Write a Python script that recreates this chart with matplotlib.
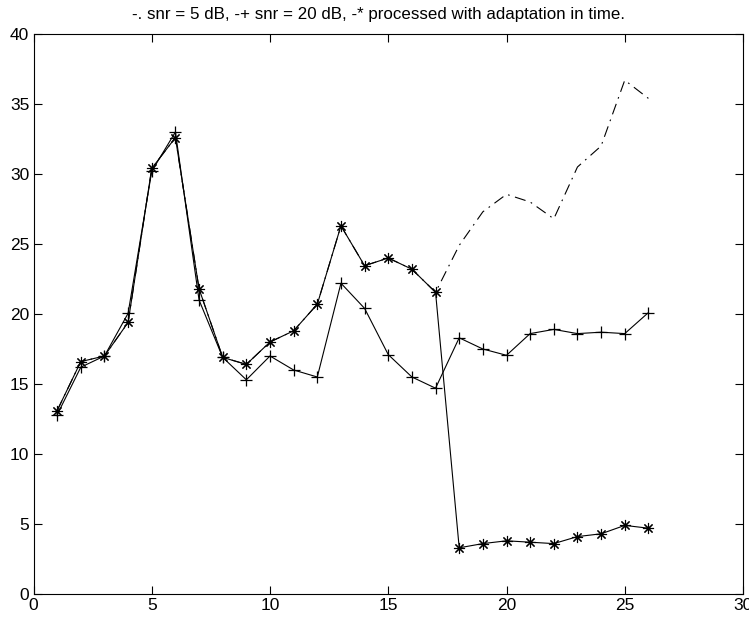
import matplotlib
matplotlib.use("Agg")
import matplotlib.pyplot as plt

frames = list(range(1, 27))

snr5 = [13.1, 16.6, 17.0, 19.4, 30.4, 32.6, 21.8, 16.9, 16.4, 18.0, 18.8, 20.7,
        26.3, 23.45, 24.0, 23.2, 21.55, 24.9, 27.3, 28.55, 28.0, 26.8, 30.5,
        32.0, 36.7, 35.4]
snr20 = [12.8, 16.2, 17.0, 20.05, 30.2, 33.0, 21.0, 16.9, 15.3, 17.0, 16.0, 15.5,
         22.2, 20.4, 17.1, 15.5, 14.7, 18.3, 17.5, 17.05, 18.6, 18.9, 18.6,
         18.7, 18.6, 20.1]
processed = [13.1, 16.6, 17.0, 19.4, 30.4, 32.6, 21.8, 16.9, 16.4, 18.0, 18.8, 20.7,
             26.3, 23.45, 24.0, 23.2, 21.55, 3.3, 3.6, 3.8, 3.7, 3.6, 4.1,
             4.3, 4.9, 4.7]

title_text = "-. snr = 5 dB, -+ snr = 20 dB, -* processed with adaptation in time."
xticks = [0, 5, 10, 15, 20, 25, 30]
yticks = [0, 5, 10, 15, 20, 25, 30, 35, 40]

plt.rcParams['font.family'] = ['Liberation Sans', 'DejaVu Sans']

fig = plt.figure(figsize=(7.49, 6.19), dpi=100)
ax = fig.add_axes([33.5 / 749, 25 / 619, (743 - 33.5) / 749, (594 - 34) / 619])

lw = 0.8
ax.plot(frames, snr5, color='black', lw=lw, linestyle=(0, (10, 5, 1.5, 5)))
ax.plot(frames, snr20, color='black', lw=lw, marker='+', markersize=9,
        markeredgewidth=0.9)
ax.plot(frames, processed, color='black', lw=lw, marker=(8, 2, 0), markersize=8,
        markeredgewidth=0.8)

ax.set_xlim(0, 30)
ax.set_ylim(0, 40)
ax.set_xticks(xticks)
ax.set_yticks(yticks)
ax.tick_params(direction='in', top=True, right=True, length=6, width=0.8,
               labelsize=12.5, pad=3)
for s in ax.spines.values():
    s.set_linewidth(0.8)

fig.text(0.505, 1 - 14 / 619, title_text, ha='center', va='center', fontsize=12.2)

fig.savefig("out.png", dpi=100)
